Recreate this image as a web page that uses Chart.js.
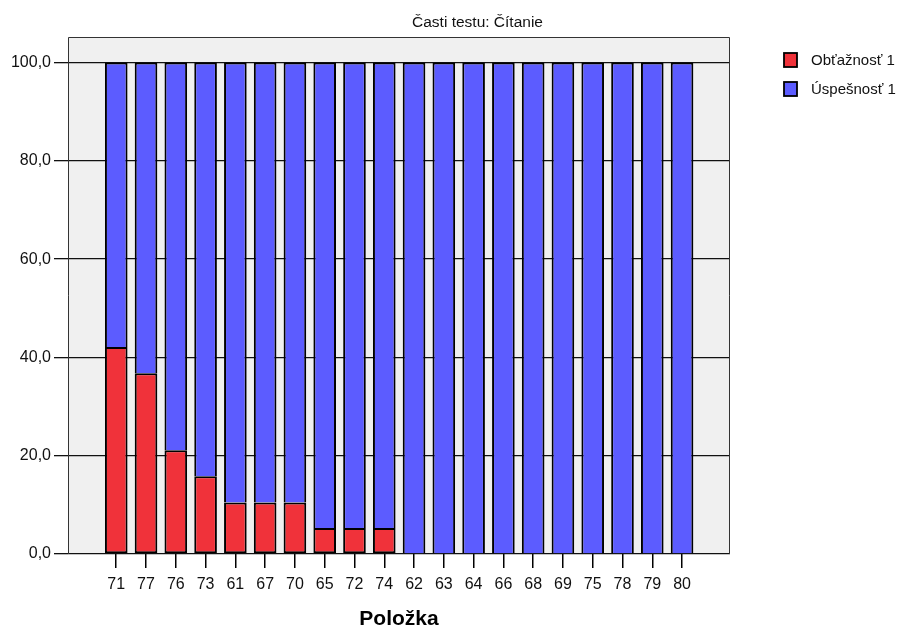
<!DOCTYPE html>
<html>
<head>
<meta charset="utf-8">
<script src="https://cdn.jsdelivr.net/npm/chart.js@4.4.1/dist/chart.umd.min.js"></script>
<style>
  html, body { margin: 0; padding: 0; background: #ffffff; }
  #wrap { width: 908px; height: 632px; position: relative; }
</style>
</head>
<body>
<div id="wrap"><canvas id="c" width="908" height="632"></canvas></div>
<script>
const chartTitle = 'Časti testu: Čítanie';
const axisTitle = 'Položka';
const categories = ['71','77','76','73','61','67','70','65','72','74','62','63','64','66','68','69','75','78','79','80'];
const obtaznost = [42.1, 36.8, 21.1, 15.8, 10.5, 10.5, 10.5, 5.3, 5.3, 5.3, 0, 0, 0, 0, 0, 0, 0, 0, 0, 0];
const uspesnost = [57.9, 63.2, 78.9, 84.2, 89.5, 89.5, 89.5, 94.7, 94.7, 94.7, 100, 100, 100, 100, 100, 100, 100, 100, 100, 100];
const seriesNames = ['Obťažnosť 1', 'Úspešnosť 1'];
const yTicks = [0, 20, 40, 60, 80, 100];

const FONT = '"Liberation Sans", Arial, Helvetica, sans-serif';
const RED = '#f0323a';
const BLUE = '#5c5cff';

const toPoints = arr => arr.map((v, i) => ({ x: i, y: v }));

const framePlugin = {
  id: 'frame',
  beforeDraw(chart) {
    const { ctx, chartArea: a } = chart;
    ctx.save();
    ctx.fillStyle = '#f0f0f0';
    ctx.fillRect(a.left, a.top, a.right - a.left, a.bottom - a.top);
    ctx.restore();
  },
  afterDraw(chart) {
    const { ctx, chartArea: a } = chart;
    ctx.save();
    ctx.strokeStyle = '#333';
    ctx.lineWidth = 1;
    ctx.beginPath();
    ctx.moveTo(a.left + 0.5, a.bottom);
    ctx.lineTo(a.left + 0.5, a.top + 0.5);
    ctx.lineTo(a.right - 0.5, a.top + 0.5);
    ctx.lineTo(a.right - 0.5, a.bottom);
    ctx.stroke();
    // title
    ctx.fillStyle = '#111';
    ctx.font = '15.5px ' + FONT;
    ctx.textAlign = 'center';
    ctx.textBaseline = 'alphabetic';
    ctx.fillText(chartTitle, 477.5, 27);
    // legend
    chart.data.datasets.forEach((ds, i) => {
      const bx = 784, by = 53 + i * 29;
      ctx.fillStyle = ds.backgroundColor;
      ctx.fillRect(bx, by, 13, 14);
      ctx.strokeStyle = '#000';
      ctx.lineWidth = 1.8;
      ctx.strokeRect(bx, by, 13, 14);
      ctx.fillStyle = '#111';
      ctx.font = '15px ' + FONT;
      ctx.textAlign = 'left';
      ctx.textBaseline = 'middle';
      ctx.fillText(ds.label, 811, by + 7.5);
    });
    ctx.restore();
  }
};

new Chart(document.getElementById('c'), {
  type: 'bar',
  data: {
    datasets: [
      { label: seriesNames[0], data: toPoints(obtaznost), backgroundColor: RED, borderColor: '#000', borderWidth: 2, borderSkipped: false },
      { label: seriesNames[1], data: toPoints(uspesnost), backgroundColor: BLUE, borderColor: '#000', borderWidth: 2, borderSkipped: 'start' }
    ]
  },
  options: {
    responsive: false,
    animation: false,
    devicePixelRatio: 1,
    layout: { padding: { top: 37, right: 178, left: 0, bottom: 0 } },
    categoryPercentage: 1,
    barPercentage: 0.76,
    plugins: { legend: { display: false }, title: { display: false }, tooltip: { enabled: false } },
    scales: {
      x: {
        type: 'linear',
        stacked: true,
        offset: false,
        min: -1.62,
        max: 20.61,
        afterBuildTicks: s => { s.ticks = categories.map((_, i) => ({ value: i })); },
        afterFit: s => { s.height = 78; },
        grid: { display: true, drawOnChartArea: false, drawTicks: true, tickLength: 14, color: '#000', lineWidth: 1.5, offset: false },
        border: { display: false },
        ticks: { autoSkip: false, maxRotation: 0, padding: 7, color: '#111', font: { family: FONT, size: 16 }, callback: v => categories[v] },
        title: { display: true, text: axisTitle, color: '#000', font: { family: FONT, size: 21, weight: 'bold' }, padding: { top: 0, bottom: 0 } }
      },
      y: {
        stacked: true,
        min: 0,
        max: 105.2,
        afterBuildTicks: s => { s.ticks = yTicks.map(v => ({ value: v })); },
        afterFit: s => { s.width = 68; },
        grid: { color: '#111', lineWidth: 1.3, tickLength: 14, drawTicks: true },
        border: { display: false },
        ticks: { padding: 3, color: '#111', font: { family: FONT, size: 16 }, callback: v => v.toFixed(1).replace('.', ',') }
      }
    }
  },
  plugins: [framePlugin]
});
</script>
</body>
</html>
